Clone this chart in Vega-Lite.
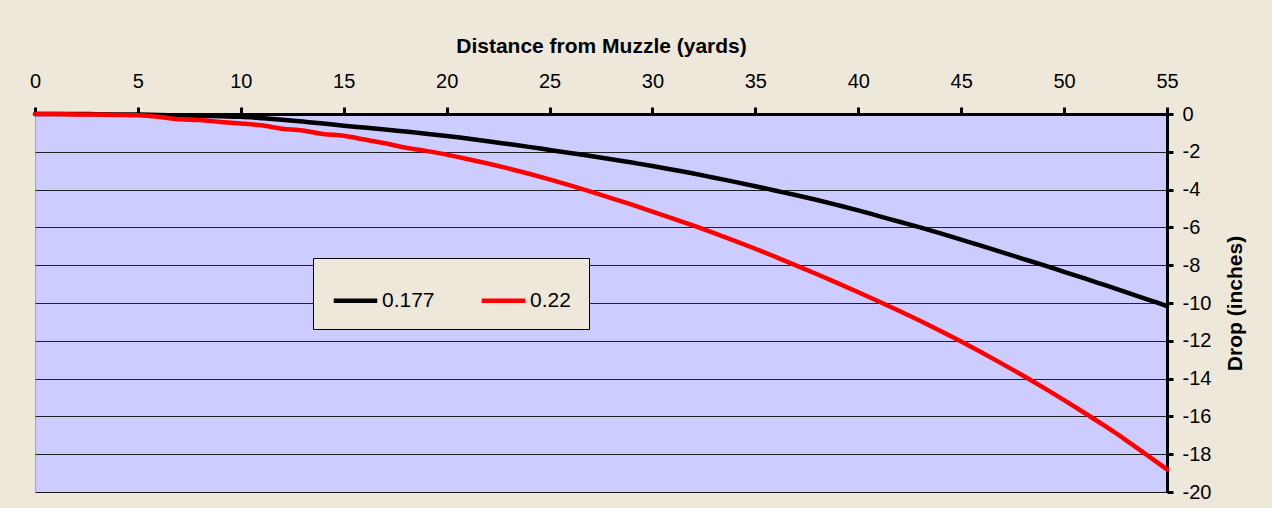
{
  "$schema": "https://vega.github.io/schema/vega-lite/v6.json",
  "width": 1132,
  "height": 378,
  "autosize": {"type": "none"},
  "padding": {"left": 35, "top": 114, "right": 105, "bottom": 16},
  "background": "#EEE8DA",
  "config": {
    "font": "Liberation Sans",
    "view": {"fill": "#CCCCFF", "stroke": "#A8A8A8", "strokeWidth": 1}
  },
  "data": {
    "values": [
      {"yd":0,"drop":0,"s":"0.177"},{"yd":1,"drop":0,"s":"0.177"},{"yd":2,"drop":0,"s":"0.177"},{"yd":3,"drop":-0.01,"s":"0.177"},{"yd":4,"drop":-0.02,"s":"0.177"},{"yd":5,"drop":-0.03,"s":"0.177"},{"yd":6,"drop":-0.05,"s":"0.177"},{"yd":7,"drop":-0.07,"s":"0.177"},{"yd":8,"drop":-0.09,"s":"0.177"},{"yd":9,"drop":-0.12,"s":"0.177"},{"yd":10,"drop":-0.15,"s":"0.177"},
      {"yd":11,"drop":-0.22,"s":"0.177"},{"yd":12,"drop":-0.3,"s":"0.177"},{"yd":13,"drop":-0.4,"s":"0.177"},{"yd":14,"drop":-0.5,"s":"0.177"},{"yd":15,"drop":-0.62,"s":"0.177"},{"yd":16,"drop":-0.72,"s":"0.177"},{"yd":17,"drop":-0.82,"s":"0.177"},{"yd":18,"drop":-0.93,"s":"0.177"},{"yd":19,"drop":-1.04,"s":"0.177"},{"yd":20,"drop":-1.16,"s":"0.177"},
      {"yd":21,"drop":-1.3,"s":"0.177"},{"yd":22,"drop":-1.44,"s":"0.177"},{"yd":23,"drop":-1.59,"s":"0.177"},{"yd":24,"drop":-1.74,"s":"0.177"},{"yd":25,"drop":-1.9,"s":"0.177"},{"yd":26,"drop":-2.06,"s":"0.177"},{"yd":27,"drop":-2.22,"s":"0.177"},{"yd":28,"drop":-2.39,"s":"0.177"},{"yd":29,"drop":-2.57,"s":"0.177"},{"yd":30,"drop":-2.75,"s":"0.177"},
      {"yd":31,"drop":-2.95,"s":"0.177"},{"yd":32,"drop":-3.15,"s":"0.177"},{"yd":33,"drop":-3.37,"s":"0.177"},{"yd":34,"drop":-3.59,"s":"0.177"},{"yd":35,"drop":-3.82,"s":"0.177"},{"yd":36,"drop":-4.06,"s":"0.177"},{"yd":37,"drop":-4.3,"s":"0.177"},{"yd":38,"drop":-4.55,"s":"0.177"},{"yd":39,"drop":-4.82,"s":"0.177"},{"yd":40,"drop":-5.1,"s":"0.177"},
      {"yd":41,"drop":-5.4,"s":"0.177"},{"yd":42,"drop":-5.7,"s":"0.177"},{"yd":43,"drop":-6.0,"s":"0.177"},{"yd":44,"drop":-6.32,"s":"0.177"},{"yd":45,"drop":-6.65,"s":"0.177"},{"yd":46,"drop":-6.98,"s":"0.177"},{"yd":47,"drop":-7.32,"s":"0.177"},{"yd":48,"drop":-7.66,"s":"0.177"},{"yd":49,"drop":-8.0,"s":"0.177"},{"yd":50,"drop":-8.35,"s":"0.177"},
      {"yd":51,"drop":-8.7,"s":"0.177"},{"yd":52,"drop":-9.06,"s":"0.177"},{"yd":53,"drop":-9.42,"s":"0.177"},{"yd":54,"drop":-9.79,"s":"0.177"},{"yd":55,"drop":-10.16,"s":"0.177"},
      {"yd":0,"drop":0,"s":"0.22"},{"yd":1,"drop":0,"s":"0.22"},{"yd":2,"drop":-0.02,"s":"0.22"},{"yd":3,"drop":-0.03,"s":"0.22"},{"yd":4,"drop":-0.05,"s":"0.22"},{"yd":5,"drop":-0.07,"s":"0.22"},{"yd":6,"drop":-0.15,"s":"0.22"},{"yd":7,"drop":-0.28,"s":"0.22"},{"yd":8,"drop":-0.32,"s":"0.22"},{"yd":9,"drop":-0.42,"s":"0.22"},{"yd":10,"drop":-0.5,"s":"0.22"},
      {"yd":11,"drop":-0.6,"s":"0.22"},{"yd":12,"drop":-0.78,"s":"0.22"},{"yd":13,"drop":-0.87,"s":"0.22"},{"yd":14,"drop":-1.06,"s":"0.22"},{"yd":15,"drop":-1.15,"s":"0.22"},{"yd":16,"drop":-1.35,"s":"0.22"},{"yd":17,"drop":-1.55,"s":"0.22"},{"yd":18,"drop":-1.78,"s":"0.22"},{"yd":19,"drop":-1.95,"s":"0.22"},{"yd":20,"drop":-2.15,"s":"0.22"},
      {"yd":21,"drop":-2.38,"s":"0.22"},{"yd":22,"drop":-2.62,"s":"0.22"},{"yd":23,"drop":-2.88,"s":"0.22"},{"yd":24,"drop":-3.16,"s":"0.22"},{"yd":25,"drop":-3.46,"s":"0.22"},{"yd":26,"drop":-3.78,"s":"0.22"},{"yd":27,"drop":-4.11,"s":"0.22"},{"yd":28,"drop":-4.45,"s":"0.22"},{"yd":29,"drop":-4.8,"s":"0.22"},{"yd":30,"drop":-5.16,"s":"0.22"},
      {"yd":31,"drop":-5.53,"s":"0.22"},{"yd":32,"drop":-5.91,"s":"0.22"},{"yd":33,"drop":-6.3,"s":"0.22"},{"yd":34,"drop":-6.71,"s":"0.22"},{"yd":35,"drop":-7.13,"s":"0.22"},{"yd":36,"drop":-7.57,"s":"0.22"},{"yd":37,"drop":-8.02,"s":"0.22"},{"yd":38,"drop":-8.48,"s":"0.22"},{"yd":39,"drop":-8.95,"s":"0.22"},{"yd":40,"drop":-9.43,"s":"0.22"},
      {"yd":41,"drop":-9.92,"s":"0.22"},{"yd":42,"drop":-10.42,"s":"0.22"},{"yd":43,"drop":-10.94,"s":"0.22"},{"yd":44,"drop":-11.48,"s":"0.22"},{"yd":45,"drop":-12.04,"s":"0.22"},{"yd":46,"drop":-12.62,"s":"0.22"},{"yd":47,"drop":-13.22,"s":"0.22"},{"yd":48,"drop":-13.84,"s":"0.22"},{"yd":49,"drop":-14.48,"s":"0.22"},{"yd":50,"drop":-15.14,"s":"0.22"},
      {"yd":51,"drop":-15.82,"s":"0.22"},{"yd":52,"drop":-16.52,"s":"0.22"},{"yd":53,"drop":-17.25,"s":"0.22"},{"yd":54,"drop":-18.02,"s":"0.22"},{"yd":55,"drop":-18.8,"s":"0.22"}
    ]
  },
  "mark": {"type": "line", "strokeWidth": 4.5, "strokeCap": "round", "strokeJoin": "round", "interpolate": "monotone"},
  "encoding": {
    "x": {
      "field": "yd", "type": "quantitative",
      "scale": {"domain": [0, 55], "nice": false, "zero": false},
      "axis": {
        "orient": "top",
        "title": "Distance from Muzzle (yards)",
        "titleFont": "Liberation Sans", "titleFontSize": 21, "titleFontWeight": "bold", "titleColor": "#000",
        "titlePadding": 15,
        "values": [0,5,10,15,20,25,30,35,40,45,50,55],
        "grid": false,
        "domainColor": "#000", "domainWidth": 3,
        "tickColor": "#000", "tickWidth": 3, "tickSize": 7,
        "labelFont": "Liberation Sans", "labelFontSize": 20, "labelColor": "#000", "labelPadding": 16,
        "labelFlush": false, "labelOverlap": false
      }
    },
    "y": {
      "field": "drop", "type": "quantitative",
      "scale": {"domain": [-20, 0], "nice": false, "zero": false},
      "axis": {
        "orient": "right",
        "title": "Drop (inches)",
        "titleFont": "Liberation Sans", "titleFontSize": 21, "titleFontWeight": "bold", "titleColor": "#000",
        "titleAngle": 270, "titleBaseline": "top", "titlePadding": 14,
        "values": [0,-2,-4,-6,-8,-10,-12,-14,-16,-18,-20],
        "labelExpr": "datum.value + ''",
        "grid": true, "gridColor": "#000", "gridWidth": 1, "gridOpacity": 0.85,
        "domainColor": "#000", "domainWidth": 3,
        "tickColor": "#000", "tickWidth": 3, "tickSize": 6,
        "labelFont": "Liberation Sans", "labelFontSize": 20, "labelColor": "#000", "labelPadding": 9,
        "labelFlush": false, "labelOverlap": false
      }
    },
    "color": {
      "field": "s", "type": "nominal",
      "scale": {"domain": ["0.177", "0.22"], "range": ["#000000", "#FF0000"]},
      "legend": {
        "title": null,
        "orient": "none", "legendX": 278, "legendY": 144,
        "direction": "horizontal",
        "fillColor": "#EEE8DA", "strokeColor": "#000",
        "padding": 18,
        "symbolType": "stroke", "symbolStrokeWidth": 4.5, "symbolSize": 1900,
        "labelFont": "Liberation Sans", "labelFontSize": 21, "labelColor": "#000", "labelOffset": 2,
        "columnPadding": 37
      }
    }
  }
}
